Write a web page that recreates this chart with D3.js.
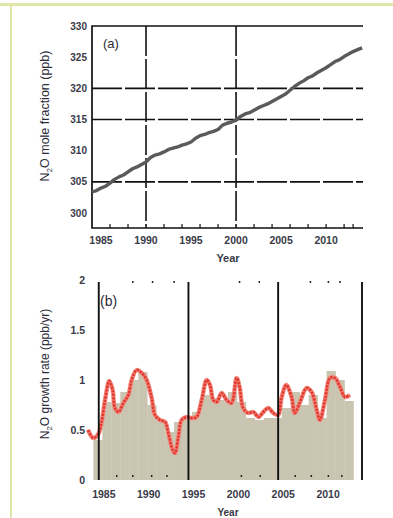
<!DOCTYPE html>
<html><head><meta charset="utf-8">
<script src="https://cdn.jsdelivr.net/npm/d3@7"></script>
<style>
html,body{margin:0;padding:0;background:#fff;}
svg{display:block;}
text{font-family:"Liberation Sans","DejaVu Sans",sans-serif;}
</style></head>
<body><svg id="c" width="393" height="518"></svg>
<script>
// Panel (a): N2O mole fraction (ppb)
const yearsA = [1984.0,1984.5,1985.0,1985.5,1986.0,1986.5,1987.0,1987.5,1988.0,1988.5,1989.0,1989.5,1990.0,1990.5,1991.0,1991.5,1992.0,1992.5,1993.0,1993.5,1994.0,1994.5,1995.0,1995.5,1996.0,1996.5,1997.0,1997.5,1998.0,1998.5,1999.0,1999.5,2000.0,2000.5,2001.0,2001.5,2002.0,2002.5,2003.0,2003.5,2004.0,2004.5,2005.0,2005.5,2006.0,2006.5,2007.0,2007.5,2008.0,2008.5,2009.0,2009.5,2010.0,2010.5,2011.0,2011.5,2012.0,2012.5,2013.0,2013.5,2014.0];
const moleFraction = [303.4,303.6,304.0,304.3,304.8,305.4,305.8,306.1,306.6,307.1,307.4,307.8,308.2,308.9,309.3,309.5,309.8,310.2,310.4,310.6,310.9,311.1,311.4,312.0,312.4,312.6,312.9,313.1,313.4,314.1,314.4,314.6,314.9,315.5,315.9,316.1,316.5,316.9,317.2,317.5,317.9,318.3,318.7,319.1,319.7,320.3,320.8,321.2,321.7,322.0,322.5,322.9,323.3,323.8,324.3,324.6,325.1,325.5,325.9,326.2,326.5];
const yTicksA = [300,305,310,315,320,325,330];
const xTicksA = [1985,1990,1995,2000,2005,2010];
const gridYA = [305,315,320];
const gridXA = [1990,2000];
const minorXA = [1986,1988,1992,1994,1996,1998,2002,2004,2006,2008,2010,2012,2013];

// Panel (b): N2O growth rate (ppb/yr)
const yearsB = [1983.4,1984.0,1984.55,1984.9,1985.3,1985.77,1986.15,1986.4,1986.8,1987.35,1987.9,1988.27,1988.83,1989.4,1989.94,1990.5,1990.87,1991.43,1992.0,1992.35,1992.84,1993.1,1993.47,1993.84,1994.4,1994.95,1995.5,1996.07,1996.63,1997.0,1997.37,1997.75,1998.3,1998.86,1999.4,1999.97,2000.3,2000.7,2001.27,2001.83,2002.4,2002.95,2003.5,2004.06,2004.6,2005.0,2005.5,2006.1,2006.45,2007.0,2007.77,2008.33,2008.9,2009.26,2009.82,2010.38,2010.94,2011.5,2012.05,2012.6];
const growthRate = [0.50,0.42,0.46,0.57,0.80,0.99,0.90,0.72,0.68,0.77,0.85,1.00,1.10,1.07,1.00,0.82,0.65,0.60,0.58,0.47,0.30,0.27,0.43,0.60,0.63,0.62,0.63,0.80,1.00,0.95,0.80,0.78,0.87,0.80,0.77,1.02,0.93,0.72,0.67,0.68,0.63,0.68,0.72,0.67,0.65,0.83,0.95,0.83,0.67,0.77,0.92,0.88,0.70,0.60,0.80,1.02,1.02,0.93,0.83,0.85];
const barYears = [1984,1985,1986,1987,1988,1989,1990,1991,1992,1993,1994,1995,1996,1997,1998,1999,2000,2001,2002,2003,2004,2005,2006,2007,2008,2009,2010,2011,2012];
const annualRate = [0.40,0.78,0.77,0.88,1.00,1.08,0.75,0.60,0.48,0.58,0.62,0.68,0.85,0.82,0.80,0.88,0.78,0.62,0.60,0.62,0.62,0.72,0.88,0.75,0.85,0.62,1.09,1.00,0.79];
const yTicksB = [0,0.5,1,1.5,2];
const xTicksB = [1985,1990,1995,2000,2005,2010];
const lineXB = [1984.6,1994.6,2004.6,2013.95];
const minorXB = [1986.6,1988.4,1990.5,1992.2,2000.5,2002.6,2006.5,2008.3,2010.2,2011.7];
const minorTopB = [1988.4,1990.6,1993.0,2000.3,2002.5,2008.2,2010.2,2011.5];

const svg = d3.select("#c");
const frameCol = "#dfe6a6";
svg.append("rect").attr("x",0).attr("y",3).attr("width",393).attr("height",3).attr("fill",frameCol);
svg.append("rect").attr("x",10).attr("y",6).attr("width",2).attr("height",512).attr("fill",frameCol);

const txtCol = "#2b2b3a";

// ---------- Panel (a)
const xA = d3.scaleLinear().domain([1984,2014.1]).range([92,363]);
const yA = d3.scaleLinear().domain([297.6,330]).range([228,26]);
const gA = svg.append("g");

gA.selectAll(".gy").data(gridYA).join("line")
  .attr("x1",xA(1984)).attr("x2",xA(2014.1)).attr("y1",d=>yA(d)).attr("y2",d=>yA(d))
  .attr("stroke","#111").attr("stroke-width",1.6).attr("stroke-dasharray","30,3");
gA.selectAll(".gx").data(gridXA).join("line")
  .attr("x1",d=>xA(d)).attr("x2",d=>xA(d)).attr("y1",yA(330)).attr("y2",yA(297.6))
  .attr("stroke","#111").attr("stroke-width",1.6).attr("stroke-dasharray","30,3");

gA.append("path").attr("d",`M${xA(2014.1)},${yA(330)}H${xA(1984)}V${yA(297.6)}H${xA(2014.1)}`)
  .attr("fill","none").attr("stroke","#111").attr("stroke-width",1.7);
gA.selectAll(".mx").data(minorXA).join("line")
  .attr("x1",d=>xA(d)).attr("x2",d=>xA(d)).attr("y1",yA(297.6)).attr("y2",yA(297.6)-4)
  .attr("stroke","#111").attr("stroke-width",1.2);

const lineA = d3.line().x((d,i)=>xA(yearsA[i])).y(d=>yA(d));
gA.append("path").datum(moleFraction).attr("d",lineA)
  .attr("fill","none").attr("stroke","#5a5a5a").attr("stroke-width",3.4).attr("stroke-linejoin","round");

gA.selectAll(".ty").data(yTicksA).join("text")
  .attr("x",87).attr("y",d=>yA(d)+3.5).attr("text-anchor","end")
  .attr("font-size",10).attr("font-weight","bold").attr("fill","#3a3a48").text(d=>d);
gA.selectAll(".tx").data(xTicksA).join("text")
  .attr("x",d=>xA(d)).attr("y",244).attr("text-anchor","middle")
  .attr("font-size",10.5).attr("font-weight","bold").attr("fill","#3a3a48").text(d=>d);
gA.append("text").attr("x",228).attr("y",262).attr("text-anchor","middle")
  .attr("font-size",11).attr("font-weight","bold").attr("fill","#3a3a48").text("Year");
gA.append("text").attr("x",103).attr("y",48).attr("font-size",13).attr("fill",txtCol).text("(a)");
const labA = gA.append("text").attr("transform","translate(49,116) rotate(-90)")
  .attr("text-anchor","middle").attr("font-size",12.5).attr("fill",txtCol);
labA.append("tspan").text("N");
labA.append("tspan").attr("font-size",8).attr("dy",2.5).text("2");
labA.append("tspan").attr("dy",-2.5).text("O mole fraction (ppb)");

// ---------- Panel (b)
const xB = d3.scaleLinear().domain([1983.4,2013.95]).range([88,362]);
const yB = d3.scaleLinear().domain([0,2]).range([480,280]);
const gB = svg.append("g");

gB.selectAll(".bar").data(annualRate).join("rect")
  .attr("x",(d,i)=>xB(barYears[i])).attr("width",(d,i)=>xB(barYears[i]+1)-xB(barYears[i])+0.3)
  .attr("y",d=>yB(d)).attr("height",d=>yB(0)-yB(d)).attr("fill","#c9c5b0");

gB.selectAll(".mb").data(minorXB).join("line")
  .attr("x1",d=>xB(d)).attr("x2",d=>xB(d)).attr("y1",yB(0)-5).attr("y2",yB(0)-3)
  .attr("stroke","#222").attr("stroke-width",1.5);
gB.selectAll(".mt").data(minorTopB).join("line")
  .attr("x1",d=>xB(d)).attr("x2",d=>xB(d)).attr("y1",yB(2)+1).attr("y2",yB(2)+3)
  .attr("stroke","#222").attr("stroke-width",1.5);

const lineB = d3.line().curve(d3.curveCatmullRom).x((d,i)=>xB(yearsB[i])).y(d=>yB(d));
gB.append("path").datum(growthRate).attr("d",lineB)
  .attr("fill","none").attr("stroke","#f08a80").attr("stroke-width",4.4).attr("stroke-linejoin","round");
gB.append("path").datum(growthRate).attr("d",lineB)
  .attr("fill","none").attr("stroke","#e23a2e").attr("stroke-width",2.6).attr("stroke-dasharray","2.5,1");

gB.selectAll(".vl").data(lineXB).join("line")
  .attr("x1",d=>xB(d)).attr("x2",d=>xB(d)).attr("y1",282).attr("y2",yB(0))
  .attr("stroke","#111").attr("stroke-width",1.9);

gB.selectAll(".ty").data(yTicksB).join("text")
  .attr("x",85).attr("y",d=>yB(d)+3.5).attr("text-anchor","end")
  .attr("font-size",10.5).attr("font-weight","bold").attr("fill","#3a3a48").text(d=>d);
gB.selectAll(".tx").data(xTicksB).join("text")
  .attr("x",d=>xB(d)+1.5).attr("y",498).attr("text-anchor","middle")
  .attr("font-size",10.5).attr("font-weight","bold").attr("fill","#3a3a48").text(d=>d);
gB.append("text").attr("x",228).attr("y",516).attr("text-anchor","middle")
  .attr("font-size",10).attr("font-weight","bold").attr("fill","#3a3a48").text("Year");
gB.append("text").attr("x",100).attr("y",306).attr("font-size",14).attr("fill",txtCol).text("(b)");
const labB = gB.append("text").attr("transform","translate(49,374) rotate(-90)")
  .attr("text-anchor","middle").attr("font-size",12).attr("fill",txtCol);
labB.append("tspan").text("N");
labB.append("tspan").attr("font-size",8).attr("dy",2.5).text("2");
labB.append("tspan").attr("dy",-2.5).text("O growth rate (ppb/yr)");
</script></body></html>
